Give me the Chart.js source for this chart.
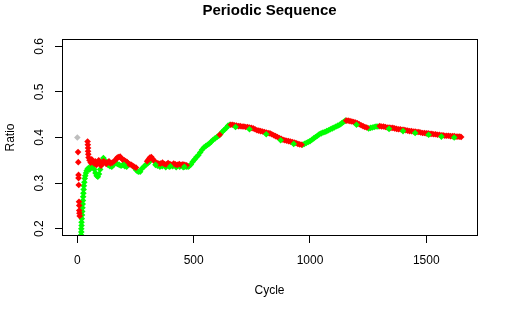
<!DOCTYPE html>
<html><head><meta charset="utf-8">
<script src="https://cdn.jsdelivr.net/npm/chart.js@4"></script>
<style>html,body{margin:0;padding:0;background:#fff;}canvas{display:block}</style>
</head><body>
<canvas id="c" width="510" height="315"></canvas>
<script>
const chartTitle = "Periodic Sequence";
const xAxisTitle = "Cycle";
const yAxisTitle = "Ratio";
const xTickValues = [0, 500, 1000, 1500];
const yTickValues = [0.2, 0.3, 0.4, 0.5, 0.6];
const yTickLabels = ["0.2", "0.3", "0.4", "0.5", "0.6"];

// first observation (grey)
const startPoints = [[0, 0.400]];

// cycles where the ratio went up (green): [cycle, ratio]
const greenPoints = [
[15,0.180],[16,0.186],[17,0.193],[17,0.200],[18,0.207],[18,0.214],[19,0.222],[20,0.230],[21,0.238],[22,0.246],[23,0.254],[24,0.262],[25,0.270],[26,0.278],[27,0.286],[28,0.294],[30,0.302],[32,0.310],[34,0.316],[37,0.322],[40,0.327],[44,0.331],[48,0.333],[53,0.330],[58,0.335],[63,0.340],[68,0.338],[73,0.330],[78,0.322],[83,0.316],[88,0.314],[93,0.320],[98,0.330],[103,0.340],[108,0.350],[112,0.355],[118,0.350],[125,0.345],[132,0.340],[140,0.337],[148,0.336],[156,0.340],[164,0.345],[172,0.342],[180,0.340],[188,0.338],[196,0.340],[204,0.337],[212,0.336],[246,0.333],[254,0.328],[262,0.325],[270,0.325],[278,0.332],[286,0.336],[294,0.340],[302,0.343],[310,0.347],[345,0.338],[355,0.336],[365,0.337],[380,0.335],[395,0.336],[410,0.337],[425,0.335],[440,0.336],[455,0.335],[468,0.336],[476,0.336],
[480,0.337],[488,0.341],[496,0.347],[504,0.352],[512,0.357],[520,0.361],[528,0.367],[536,0.373],[544,0.378],[552,0.381],[560,0.384],[568,0.387],[576,0.391],[584,0.395],[592,0.398],[600,0.401],[608,0.404],[616,0.408],[624,0.413],[632,0.417],[640,0.421],[648,0.426],[656,0.428],
[968,0.384],[976,0.386],[984,0.388],[992,0.390],[1000,0.392],[1008,0.395],[1016,0.398],[1024,0.401],[1032,0.404],[1040,0.407],[1048,0.409],[1056,0.411],[1064,0.412],[1072,0.414],[1080,0.416],[1088,0.418],[1096,0.420],[1104,0.422],[1112,0.424],[1120,0.426],[1128,0.428],[1136,0.431],[1144,0.434],[1152,0.437],
[1252,0.420],[1260,0.421],[1268,0.422],[1276,0.423],[1284,0.424],[1292,0.424]
];

// isolated upward steps inside mostly-falling stretches (green, drawn over red)
const greenSpecks = [
[200,0.340],[336,0.340],[400,0.337],[460,0.336],
[680,0.423],[740,0.418],[812,0.407],[874,0.394],[930,0.386],
[1200,0.428],[1340,0.419],[1400,0.414],[1452,0.410],[1510,0.406],[1565,0.402],[1620,0.400]
];

// cycles where the ratio went down (red): [cycle, ratio]
const redPoints = [
[3,0.368],[4,0.346],[5,0.318],[5,0.311],[6,0.296],[7,0.259],[8,0.251],[8,0.240],[9,0.234],[10,0.228],
[44,0.391],[45,0.384],[46,0.377],[46,0.370],[47,0.363],[48,0.356],[52,0.350],[57,0.345],[62,0.352],[67,0.347],[72,0.343],[77,0.348],[82,0.340],[87,0.345],[92,0.350],[97,0.342],[102,0.338],[107,0.344],[112,0.348],[118,0.346],[124,0.342],[130,0.345],[136,0.348],[142,0.343],[150,0.345],[158,0.348],[166,0.352],[172,0.356],[178,0.357],[184,0.358],[190,0.354],[196,0.351],[202,0.350],[208,0.348],[214,0.346],[220,0.343],[226,0.341],[232,0.340],[238,0.338],[244,0.336],[252,0.334],[300,0.348],[306,0.352],[312,0.356],[318,0.357],[324,0.353],[330,0.349],[336,0.346],[342,0.344],[350,0.343],[358,0.343],[366,0.345],[374,0.342],[382,0.341],[390,0.344],[398,0.342],[406,0.340],[414,0.343],[422,0.341],[430,0.340],[438,0.342],[446,0.340],[454,0.341],[462,0.340],[470,0.339],
[612,0.406],
[660,0.428],[668,0.428],[676,0.427],[684,0.426],[692,0.425],[700,0.425],[708,0.424],[716,0.424],[724,0.423],[732,0.423],[740,0.422],[748,0.421],[756,0.420],[764,0.418],[772,0.416],[780,0.415],[788,0.414],[796,0.413],[804,0.412],[812,0.411],[820,0.410],[828,0.409],[836,0.407],[844,0.405],[852,0.403],[860,0.401],[868,0.399],[876,0.397],[884,0.395],[892,0.394],[900,0.393],[908,0.392],[916,0.391],[924,0.390],[932,0.389],[940,0.388],[948,0.386],[956,0.385],[964,0.384],
[1156,0.437],[1164,0.437],[1172,0.436],[1180,0.435],[1188,0.434],[1196,0.433],[1204,0.431],[1212,0.429],[1220,0.427],[1228,0.425],[1236,0.423],[1244,0.422],[1300,0.425],[1308,0.424],[1316,0.424],[1324,0.423],[1332,0.422],[1340,0.422],[1348,0.421],[1356,0.421],[1364,0.420],[1372,0.419],[1380,0.418],[1388,0.418],[1396,0.417],[1404,0.417],[1412,0.416],[1420,0.415],[1428,0.414],[1436,0.414],[1444,0.413],[1452,0.413],[1460,0.412],[1468,0.412],[1476,0.411],[1484,0.410],[1492,0.410],[1500,0.409],[1508,0.409],[1516,0.408],[1524,0.408],[1532,0.407],[1540,0.407],[1548,0.406],[1556,0.406],[1564,0.405],[1572,0.405],[1580,0.404],[1588,0.404],[1596,0.404],[1604,0.403],[1612,0.403],[1620,0.403],[1628,0.402],[1636,0.402],[1644,0.402],[1650,0.401]
];

const FONT = "'Liberation Sans', Arial, Helvetica, sans-serif";
Chart.defaults.font.family = FONT;
Chart.defaults.color = '#000';

const toXY = arr => arr.map(p => ({x: p[0], y: p[1]}));
const pointStyle = {pointStyle: 'rectRot', pointRadius: 3.3, borderWidth: 0, clip: 0, showLine: false};

const framePlugin = {
  id: 'frame',
  afterDraw(chart) {
    const {ctx, chartArea: a, scales} = chart;
    ctx.save();
    ctx.strokeStyle = '#000';
    ctx.lineWidth = 1;
    ctx.strokeRect(a.left + 0.5, a.top + 0.5, a.right - a.left, a.bottom - a.top - 1);
    ctx.fillStyle = '#000';
    ctx.font = '12px ' + FONT;
    ctx.textAlign = 'center';
    ctx.textBaseline = 'middle';
    yTickValues.forEach((v, i) => {
      const py = scales.y.getPixelForValue(v);
      ctx.save();
      ctx.translate(40, py);
      ctx.rotate(-Math.PI / 2);
      ctx.fillText(yTickLabels[i], 0, 0);
      ctx.restore();
    });
    ctx.font = 'bold 15px ' + FONT;
    ctx.textBaseline = 'alphabetic';
    ctx.fillText(chartTitle, (a.left + a.right) / 2, 15);
    ctx.restore();
  }
};

new Chart(document.getElementById('c'), {
  type: 'scatter',
  data: {
    datasets: [
      Object.assign({label: 'up (isolated)', data: toXY(greenSpecks), backgroundColor: '#00FF00'}, pointStyle),
      Object.assign({label: 'down', data: toXY(redPoints), backgroundColor: '#FF0000'}, pointStyle),
      Object.assign({label: 'up', data: toXY(greenPoints), backgroundColor: '#00FF00'}, pointStyle),
      Object.assign({label: 'start', data: toXY(startPoints), backgroundColor: '#BEBEBE'}, pointStyle)
    ]
  },
  options: {
    responsive: false,
    animation: false,
    devicePixelRatio: 1,
    events: [],
    layout: {padding: {left: 0, right: 33, top: 39, bottom: 0}},
    plugins: {legend: {display: false}, tooltip: {enabled: false}, title: {display: false}},
    scales: {
      x: {
        type: 'linear', min: -66, max: 1718,
        afterBuildTicks: s => { s.ticks = xTickValues.map(v => ({value: v})); },
        afterFit: s => { s.height = 79; },
        grid: {drawOnChartArea: false, drawTicks: true, tickLength: 7, color: '#000'},
        border: {display: false},
        ticks: {font: {size: 12}, color: '#000', padding: 10, maxRotation: 0, autoSkip: false,
                callback: v => String(v)},
        title: {display: true, text: xAxisTitle, font: {size: 12}, color: '#000', padding: {top: 0, bottom: 17}}
      },
      y: {
        type: 'linear', min: 0.184, max: 0.616,
        afterBuildTicks: s => { s.ticks = yTickValues.map(v => ({value: v})); },
        afterFit: s => { s.width = 62; },
        grid: {drawOnChartArea: false, drawTicks: true, tickLength: 7, color: '#000'},
        border: {display: false},
        ticks: {display: false},
        title: {display: true, text: yAxisTitle, font: {size: 12}, color: '#000', padding: {top: 3, bottom: 0}}
      }
    }
  },
  plugins: [framePlugin]
});
</script>
</body></html>
